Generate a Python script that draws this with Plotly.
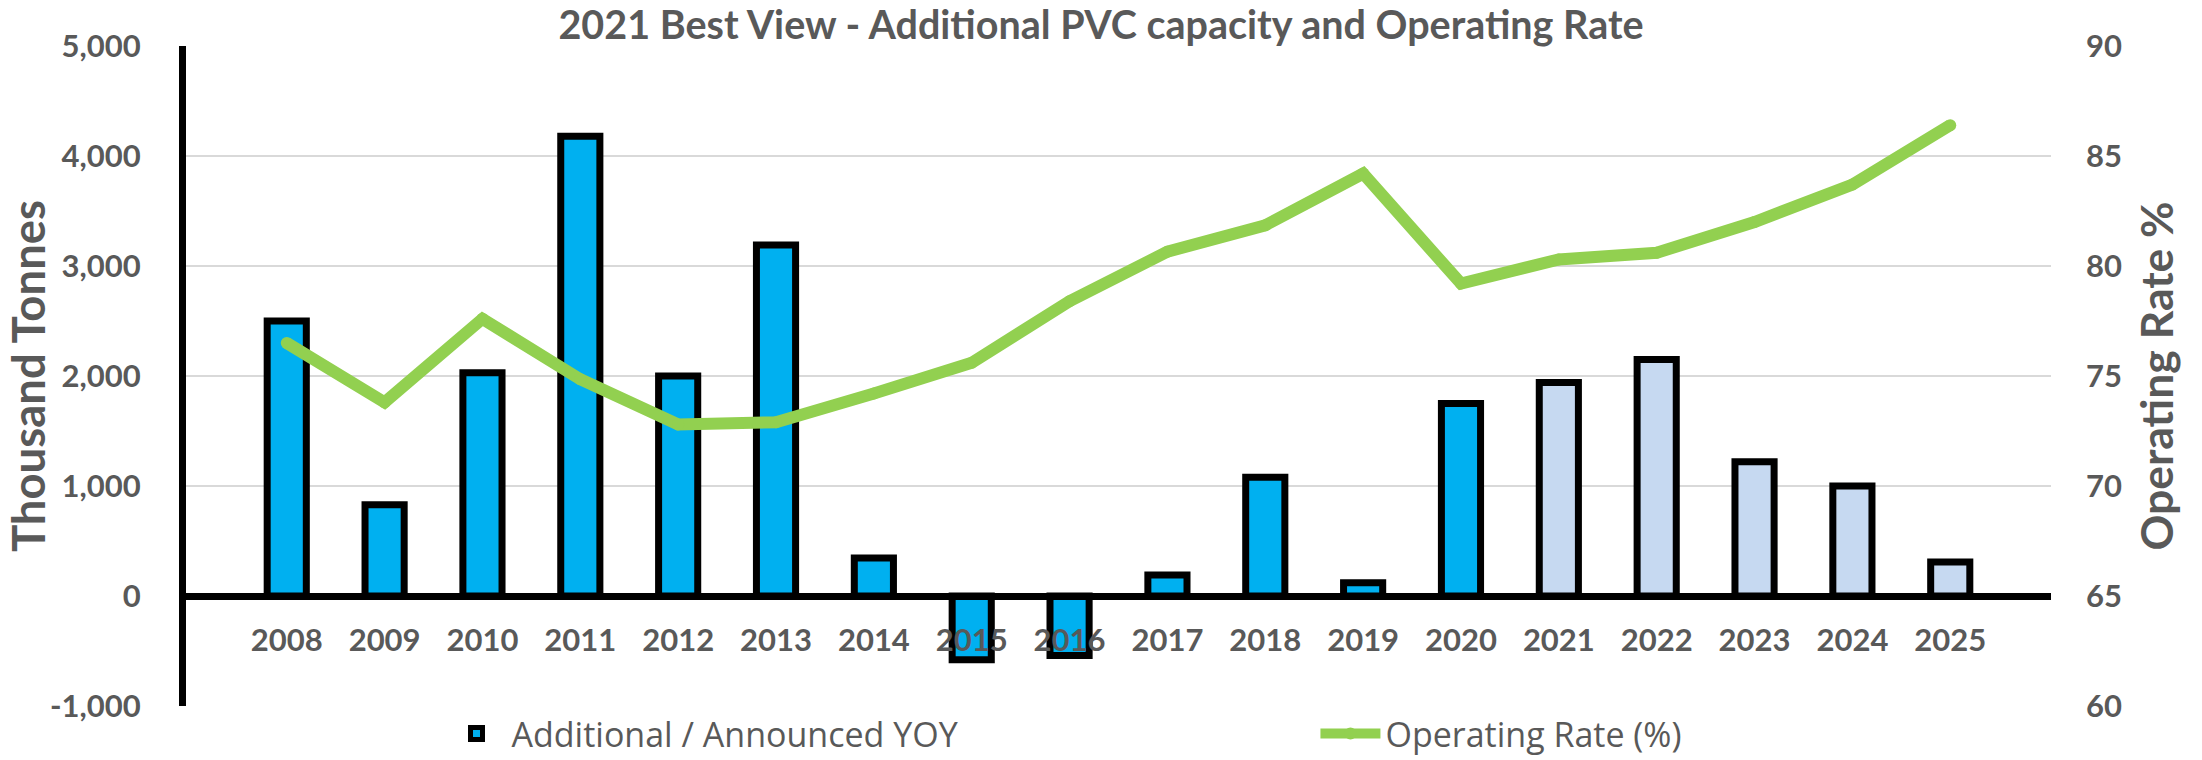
import plotly.graph_objects as go

# ---------------- data ----------------
YEARS = ["2008", "2009", "2010", "2011", "2012", "2013", "2014", "2015", "2016",
         "2017", "2018", "2019", "2020", "2021", "2022", "2023", "2024", "2025"]
ADDITIONAL_CAPACITY = [2500, 830, 2030, 4180, 2000, 3190, 345, -580, -540,
                       190, 1080, 120, 1750, 1940, 2150, 1220, 1000, 310]
OPERATING_RATE = [76.5, 73.8, 77.6, 74.85, 72.8, 72.9, 74.2, 75.6, 78.4,
                  80.65, 81.85, 84.2, 79.2, 80.3, 80.6, 82.0, 83.7, 86.4]
FIRST_ANNOUNCED_YEAR = "2021"
LEFT_TICKS = [-1000, 0, 1000, 2000, 3000, 4000, 5000]
RIGHT_TICKS = [60, 65, 70, 75, 80, 85, 90]

TITLE = "2021 Best View - Additional PVC capacity and Operating Rate"
BAR_NAME = "Additional / Announced YOY"
LINE_NAME = "Operating Rate (%)"

# ---------------- style ----------------
W, H = 2202, 760
ML, MR, MT, MB = 186, 151, 46, 54
TEXT = "#595959"
ACTUAL = "#00B0F0"
ANNOUNCED = "#C6D9F1"
GREEN = "#92D050"
GRID = "#D9D9D9"
CAL = "Lato, 'Open Sans', sans-serif"
LEG_FONT = dict(family="'Open Sans', sans-serif", size=34, color=TEXT)

bar_colors = [ANNOUNCED if int(y) >= int(FIRST_ANNOUNCED_YEAR) else ACTUAL for y in YEARS]

fig = go.Figure()
fig.add_trace(go.Bar(
    x=YEARS, y=ADDITIONAL_CAPACITY, name=BAR_NAME,
    marker=dict(color=bar_colors, line=dict(color="black", width=7)),
    yaxis="y", legend="legend",
))
fig.add_trace(go.Scatter(
    x=YEARS, y=OPERATING_RATE, name=LINE_NAME, mode="lines+markers",
    line=dict(color=GREEN, width=12),
    marker=dict(color=GREEN, size=12),
    yaxis="y2", legend="legend2",
))

plot_h = H - MT - MB
zero_pos = (0 - LEFT_TICKS[0]) / (LEFT_TICKS[-1] - LEFT_TICKS[0])
leg_y = -28 / plot_h

fig.update_layout(
    width=W, height=H,
    margin=dict(l=ML, r=MR, t=MT, b=MB, pad=0, autoexpand=False),
    paper_bgcolor="white", plot_bgcolor="white",
    bargap=0.6,
    showlegend=True,
    title=dict(text=TITLE, x=0.5, xanchor="center", xref="container",
               y=1 - 25 / H, yref="container", yanchor="middle",
               font=dict(family=CAL, size=39.5, color=TEXT, weight="bold")),
    xaxis=dict(
        type="category", anchor="free", position=zero_pos,
        showline=True, linecolor="black", linewidth=7,
        showgrid=False, zeroline=False, ticks="",
        ticklabelstandoff=14, automargin=False,
        tickfont=dict(family=CAL, size=31, color=TEXT, weight="bold"),
        domain=[0, 1],
    ),
    yaxis=dict(
        range=[LEFT_TICKS[0], LEFT_TICKS[-1]], domain=[0, 1],
        tickvals=LEFT_TICKS, ticktext=[f"{v:,}" for v in LEFT_TICKS],
        showline=True, linecolor="black", linewidth=7,
        showgrid=True, gridcolor=GRID, gridwidth=2,
        zeroline=False, ticks="", ticklabelstandoff=32, automargin=False,
        tickfont=dict(family=CAL, size=31, color=TEXT, weight="bold"),
        title=dict(text="Thousand Tonnes", standoff=8,
                   font=dict(family=CAL, size=45.5, color=TEXT, weight="bold")),
    ),
    yaxis2=dict(
        range=[RIGHT_TICKS[0], RIGHT_TICKS[-1]], overlaying="y", side="right",
        tickvals=RIGHT_TICKS, showgrid=False, zeroline=False, showline=False,
        ticks="", ticklabelstandoff=34, automargin=False,
        tickfont=dict(family=CAL, size=31, color=TEXT, weight="bold"),
        title=dict(text="Operating Rate %", standoff=20,
                   font=dict(family=CAL, size=44.5, color=TEXT, weight="bold")),
    ),
    legend=dict(
        orientation="h", x=0.137, xanchor="left", y=leg_y, yanchor="middle",
        font=LEG_FONT, itemwidth=60, bgcolor="rgba(0,0,0,0)",
    ),
    legend2=dict(
        orientation="h", x=0.6056, xanchor="left", y=leg_y, yanchor="middle",
        font=LEG_FONT, itemwidth=60, bgcolor="rgba(0,0,0,0)",
    ),
)

fig.write_html("out.html", config={"displayModeBar": False},
               post_script="document.body.style.margin='0';document.body.style.overflow='hidden';")
